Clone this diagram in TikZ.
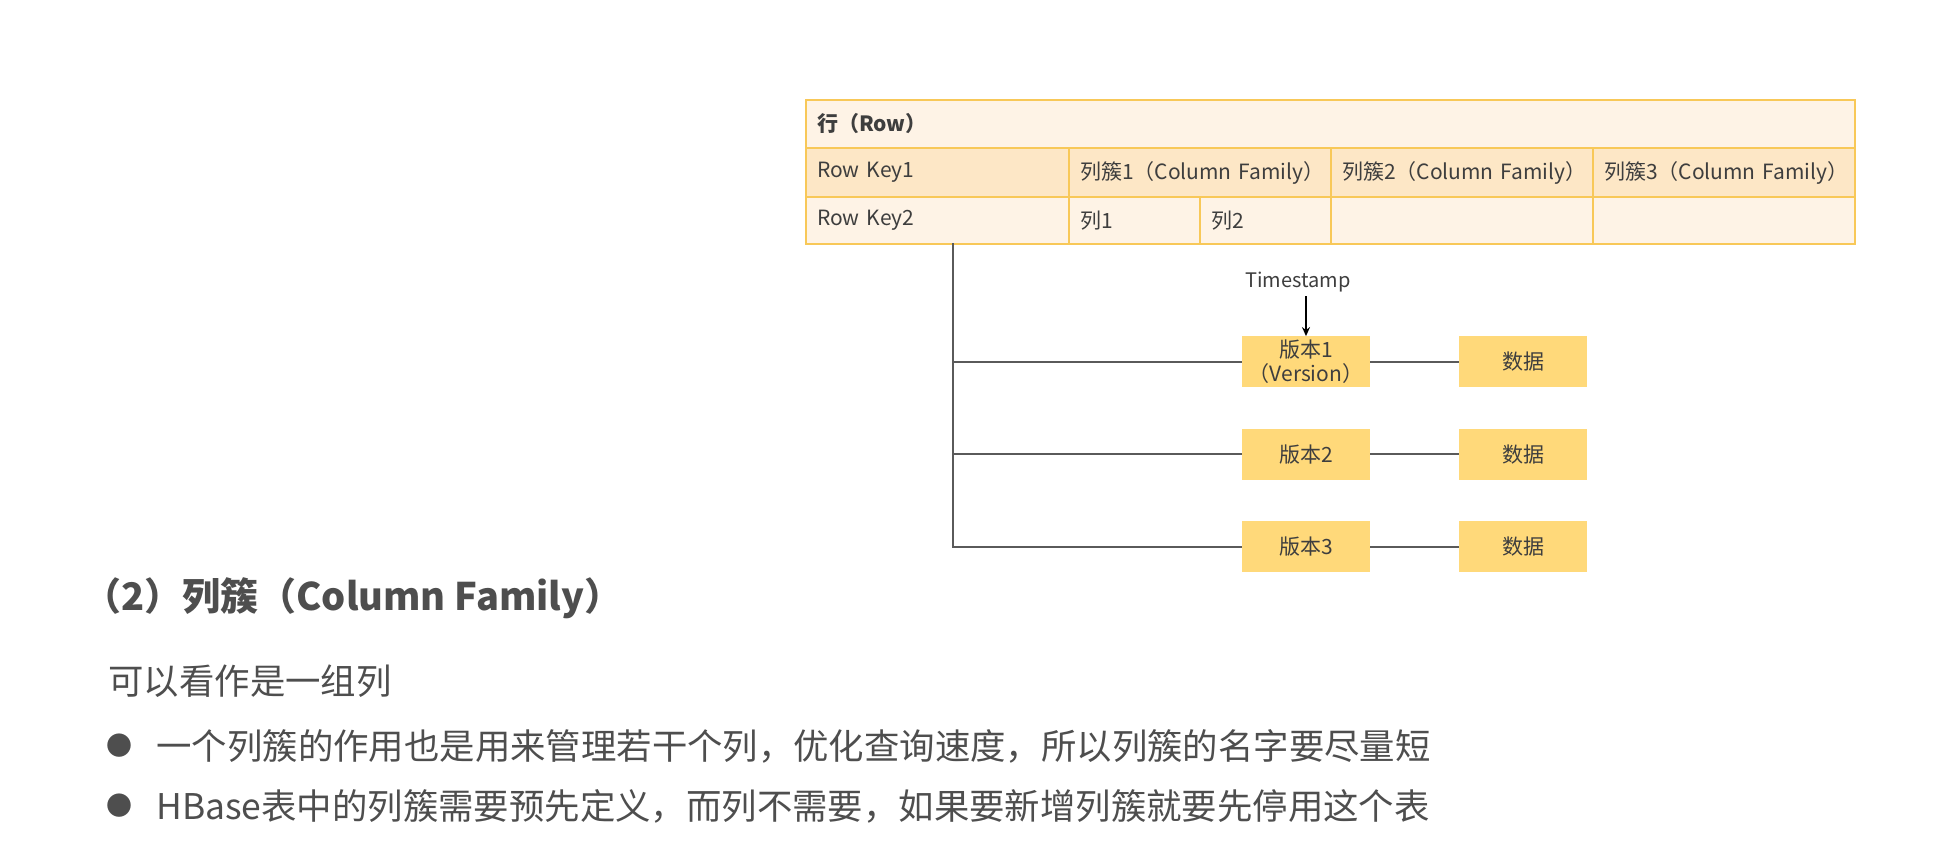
\documentclass[tikz,border=0pt]{standalone}
\usepackage{fontspec}
\setmainfont{Noto Sans CJK SC}
\usetikzlibrary{arrows.meta,positioning}
\definecolor{gold}{RGB}{248,200,88}
\definecolor{cream}{RGB}{254,243,230}
\definecolor{peach}{RGB}{253,231,198}
\definecolor{butter}{RGB}{255,217,122}
\definecolor{wirec}{RGB}{90,90,90}
\definecolor{ink}{RGB}{62,62,62}
\definecolor{slate}{RGB}{78,78,78}
\tikzset{
  >={Stealth[length=4.5pt,width=4pt]},
  cell/.style={draw=gold,fill=#1,line width=1pt,anchor=north west,inner xsep=5.5pt,inner ysep=0pt,
    align=left,font=\fontsize{10.5}{12}\selectfont,text=ink},
  cell/.default=cream,
  verbox/.style={fill=butter,minimum width=64pt,minimum height=25.5pt,inner sep=0pt,align=center,
    font=\fontsize{10.5}{12}\selectfont,text=ink},
  wire/.style={draw=wirec,line width=1pt},
  heading/.style={anchor=west,inner sep=0pt,font=\fontsize{19}{22}\selectfont\bfseries,text=slate},
  bodytext/.style={anchor=west,inner sep=0pt,font=\fontsize{17.7}{20}\selectfont,text=slate},
}
\begin{document}
\begin{tikzpicture}[x={(0.5pt,0)},y={(0,-0.5pt)}]
    \useasboundingbox[fill=white] (0,0) rectangle (1951,866);
    % table
    \node[cell, minimum height=24pt, text width=513.5pt, font=\fontsize{10.5}{12}\selectfont\bfseries] (rowhd) at (805,99) {行（Row）};
    \foreach \x/\w/\t [count=\k, evaluate=\w as \tw using \w/2-11] in {805/263/Row Key1,
                             1068/262/列簇1（Column Family）,
                             1330/262/列簇2（Column Family）,
                             1592/262/列簇3（Column Family）}{
      \node[cell=peach, minimum height=24.5pt, text width=\tw pt] (fam\k) at (\x,147) {\mbox{\t}};
    }
    \foreach \x/\w/\t [count=\k, evaluate=\w as \tw using \w/2-11] in {805/263/Row Key2,
                             1068/131/列1, 1199/131/列2, 1330/262/{}, 1592/262/{}}{
      \node[cell, minimum height=23.5pt, text width=\tw pt] (col\k) at (\x,196) {\mbox{\t}};
    }
    % versions
    \node[verbox] (v1) at (1306,362) {版本1\\（Version）};
    \node[verbox] (v2) at (1306,454.5) {版本2};
    \node[verbox] (v3) at (1306,546.5) {版本3};
    \foreach \y [count=\k] in {362,454.5,546.5}
      \node[verbox] (d\k) at (1523,\y) {数据};
    \node[font=\fontsize{10}{12}\selectfont, text=ink, inner sep=2pt] (ts) at (1298,282) {Timestamp};
    \draw[->, black, line width=0.7pt] (ts.south -| v1.north) -- (v1.north);
    \coordinate (trunk) at (953,243);
    \draw[wire] (trunk) |- (v3.west);
    \foreach \k in {1,2}
      \draw[wire] (trunk |- v\k.west) -- (v\k.west);
    \foreach \k in {1,2,3}
      \draw[wire] (v\k) -- (d\k);
    % text below
    \node[heading] (title) at (83,598) {（2）列簇（Column Family）};
    \node[bodytext] (intro) at (108,681) {可以看作是一组列};
    \foreach \y/\t [count=\k] in {746/{一个列簇的作用也是用来管理若干个列，优化查询速度，所以列簇的名字要尽量短},
                                  806/{HBase表中的列簇需要预先定义，而列不需要，如果要新增列簇就要先停用这个表}}{
      \node[bodytext, anchor=center, font=\fontsize{13}{14}\selectfont] (dot\k) at (119,\y) {●};
      \node[bodytext] (pt\k) at (156,\y) {\t};
    }
\end{tikzpicture}
\end{document}
